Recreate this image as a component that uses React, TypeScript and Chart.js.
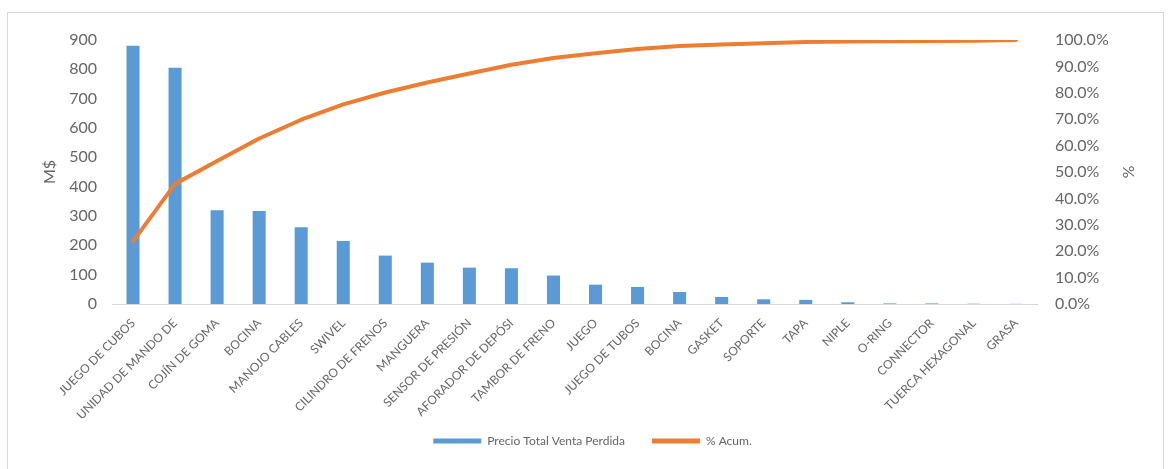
import React, { useEffect, useRef } from "react";
import { Chart, registerables } from "chart.js";

Chart.register(...registerables);

const categories = [
  "JUEGO DE CUBOS",
  "UNIDAD DE MANDO DE",
  "COJÍN DE GOMA",
  "BOCINA",
  "MANOJO CABLES",
  "SWIVEL",
  "CILINDRO DE FRENOS",
  "MANGUERA",
  "SENSOR DE PRESIÓN",
  "AFORADOR DE DEPÓSI",
  "TAMBOR DE FRENO",
  "JUEGO",
  "JUEGO DE TUBOS",
  "BOCINA",
  "GASKET",
  "SOPORTE",
  "TAPA",
  "NIPLE",
  "O-RING",
  "CONNECTOR",
  "TUERCA HEXAGONAL",
  "GRASA",
];

const precioTotal = [880, 805, 320, 317, 262, 215, 165, 141, 124, 122, 97, 66, 58, 41, 24, 16, 14, 6, 2, 2, 1, 0.5];

const acumPct = [23.7, 45.5, 54.2, 62.7, 69.8, 75.6, 80.1, 83.9, 87.3, 90.6, 93.2, 95.0, 96.6, 97.7, 98.3, 98.8, 99.2, 99.4, 99.5, 99.6, 99.7, 100.0];

const leftTicksMax = 900;
const rightTicksMax = 100;

const FONT = "Lato, 'Open Sans', sans-serif";
const GRAY = "#666666";
const BLUE = "#5B9BD5";
const ORANGE = "#ED7D31";

const noLabelClip = {
  id: "noLabelClip",
  beforeDraw(chart: any) {
    const x = chart.scales.x;
    if (x) x._computeLabelArea = () => undefined;
  },
};

export default function App() {
  const ref = useRef<HTMLCanvasElement | null>(null);

  useEffect(() => {
    if (!ref.current) return;
    const chart = new Chart(ref.current, {
      type: "bar",
      data: {
        labels: categories,
        datasets: [
          {
            type: "bar",
            label: "Precio Total Venta Perdida",
            data: precioTotal,
            backgroundColor: BLUE,
            borderWidth: 0,
            barPercentage: 0.31,
            categoryPercentage: 1,
            yAxisID: "y",
            order: 1,
          },
          {
            type: "line",
            label: "% Acum.",
            data: acumPct,
            borderColor: ORANGE,
            backgroundColor: ORANGE,
            borderWidth: 4,
            pointRadius: 0,
            tension: 0,
            borderCapStyle: "round",
            borderJoinStyle: "round",
            yAxisID: "y1",
            order: 0,
          },
        ],
      },
      plugins: [noLabelClip],
      options: {
        animation: false,
        responsive: false,
        maintainAspectRatio: false,
        layout: { padding: { top: 27, bottom: 14, left: 14, right: 0 } },
        plugins: {
          tooltip: { enabled: false },
          legend: {
            position: "bottom",
            labels: {
              font: { family: FONT, size: 12 },
              color: GRAY,
              boxWidth: 48,
              boxHeight: 5,
              padding: 27,
              generateLabels: (c: any) =>
                c.data.datasets.map((ds: any, i: number) => ({
                  text: ds.label,
                  fillStyle: i === 0 ? BLUE : ORANGE,
                  strokeStyle: i === 0 ? BLUE : ORANGE,
                  lineWidth: 0,
                  hidden: false,
                  datasetIndex: i,
                  fontColor: GRAY,
                })),
            },
          },
        },
        scales: {
          x: {
            offset: true,
            grid: { display: false },
            border: { display: true, color: "#d9d9d9", width: 1 },
            ticks: {
              autoSkip: false,
              maxRotation: 45,
              minRotation: 45,
              color: GRAY,
              font: { family: FONT, size: 12 },
              padding: 4,
            },
            afterFit: (s: any) => {
              s.height = 104;
            },
          },
          y: {
            position: "left",
            min: 0,
            max: leftTicksMax,
            grid: { display: false },
            border: { display: false },
            ticks: {
              stepSize: 100,
              color: GRAY,
              font: { family: FONT, size: 16 },
              padding: 7,
            },
            title: {
              display: true,
              text: "M$",
              color: GRAY,
              font: { family: FONT, size: 16 },
              padding: { top: 18, bottom: 0 },
            },
            afterFit: (s: any) => {
              s.width = 90;
            },
          },
          y1: {
            position: "right",
            min: 0,
            max: rightTicksMax,
            grid: { display: false },
            border: { display: false },
            ticks: {
              stepSize: 10,
              color: GRAY,
              font: { family: FONT, size: 16 },
              padding: 10,
              callback: (v: any) => Number(v).toFixed(1) + "%",
            },
            title: {
              display: true,
              text: "%",
              color: GRAY,
              font: { family: FONT, size: 16 },
              padding: { top: 25, bottom: 0 },
            },
            afterFit: (s: any) => {
              s.width = 126;
            },
          },
        },
      },
    });
    return () => chart.destroy();
  }, []);

  return (
    <div
      style={{
        position: "absolute",
        left: 7,
        top: 12,
        width: 1155,
        height: 470,
        border: "1px solid #d9d9d9",
        background: "#fff",
      }}
    >
      <canvas ref={ref} width={1155} height={458} style={{ display: "block" }} />
    </div>
  );
}
